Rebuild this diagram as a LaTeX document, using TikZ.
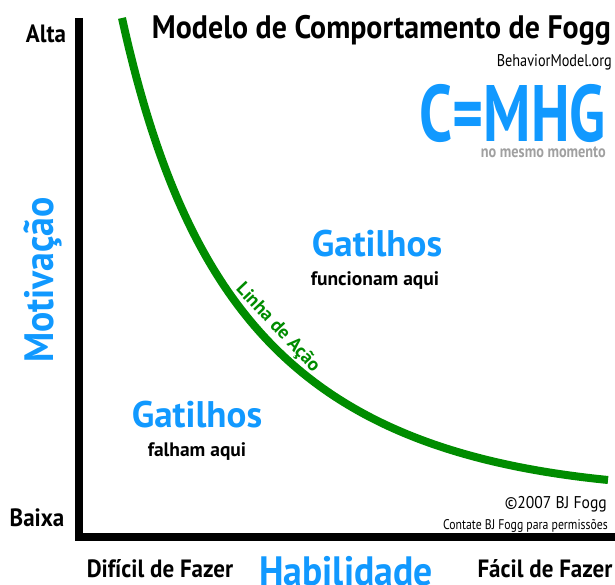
\documentclass[tikz,border=0pt]{standalone}
\usepackage{fontspec}
\setmainfont{PT Sans}[FakeStretch=0.92]
\newfontfamily\plainfont{PT Sans}
\newfontfamily\condfont{PT Sans}[FakeStretch=0.84]
\newfontfamily\narrowfont{PT Sans}[FakeStretch=0.74]
\definecolor{foggblue}{RGB}{17,153,255}
\definecolor{fogggreen}{RGB}{0,140,0}
\definecolor{fogggray}{RGB}{160,160,160}
\newcommand{\fsz}[1]{\fontsize{#1}{#1}\selectfont}
\tikzset{
  axisline/.style={line width=8pt, line join=miter, black},
  actionline/.style={line width=8pt, fogggreen},
  endlabel/.style={font=\bfseries\fsz{25}, anchor=base, inner sep=0pt},
  bluelabel/.style={font=\bfseries\fsz{41}, foggblue, anchor=base, inner sep=0pt},
  triglabel/.style={font=\plainfont\bfseries\fsz{37}, foggblue, anchor=base, inner sep=0pt},
  sublabel/.style={font=\plainfont\bfseries\fsz{19.5}, anchor=base, inner sep=0pt},
}
\begin{document}
\begin{tikzpicture}[x=1pt, y=1pt]
\useasboundingbox (0,0) rectangle (615,585);

% axes
\coordinate (ytop) at (79,567);
\coordinate (origin) at (79,48);
\coordinate (xend) at (615,48);
\draw [axisline] (ytop) -- (origin) -- (xend);

% action line
\coordinate (hard) at (122,567);
\coordinate (easy) at (608,105);
\draw [actionline] (hard) .. controls (188,267) and (308,135) .. (easy)
  node [pos=0.475, sloped, above=3pt, inner sep=0pt, font=\plainfont\bfseries\fsz{19}, fogggreen] (linha) {Linha de Ação};

% axis labels
\node [endlabel] (alta) at (46,542) {Alta};
\node [endlabel] (baixa) at (37,58) {Baixa};
\node [endlabel] (dificil) at (160,7) {Difícil de Fazer};
\node [endlabel] (facil) at (545,7) {Fácil de Fazer};
\node [bluelabel] (habil) at (346,-1) {Habilidade};
\node [bluelabel, rotate=90] (motiv) at (53,305) {Motivação};

% title block
\node [font=\bfseries\fsz{32.5}, anchor=base east, inner sep=0pt] (title) at (611,546) {Modelo de Comportamento de Fogg};
\node [font=\condfont\fsz{17}, anchor=base east, inner sep=0pt] (site) at (612,518) {BehaviorModel.org};
\node [font=\narrowfont\bfseries\fsz{80}, foggblue, anchor=base east, inner sep=0pt] (formula) at (606,443) {C=MHG};
\node [font=\condfont\bfseries\fsz{17}, fogggray, anchor=base east, inner sep=0pt] (moment) at (606,427) {no mesmo momento};

% regions
\node [triglabel] (gatup) at (377,328) {Gatilhos};
\node [sublabel] (works) at (375,299) {funcionam aqui};
\node [triglabel] (gatdown) at (197,157) {Gatilhos};
\node [sublabel] (fails) at (197,128) {falham aqui};

% copyright
\node [font=\fsz{17}, anchor=base east, inner sep=0pt] (copy) at (607,76) {©2007 BJ Fogg};
\node [font=\condfont\fsz{14}, anchor=base east, inner sep=0pt] (contact) at (608,55) {Contate BJ Fogg para permissões};
\end{tikzpicture}
\end{document}
